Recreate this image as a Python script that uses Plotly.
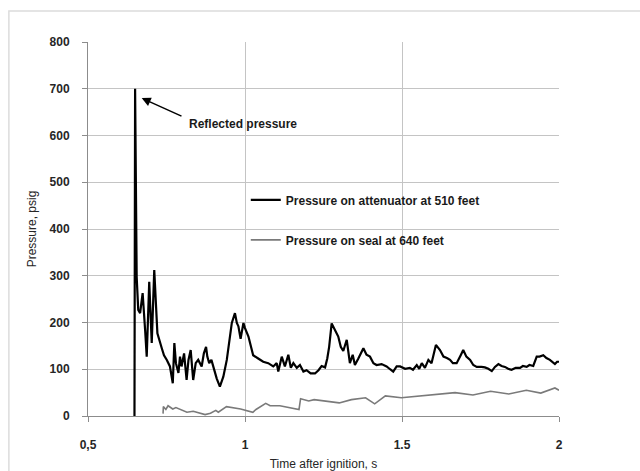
import plotly.graph_objects as go

# ---- data ----
t_att = [0.648, 0.650, 0.655, 0.660, 0.666, 0.674, 0.682, 0.687, 0.695, 0.703, 0.711, 0.716,
         0.721, 0.735, 0.742, 0.751, 0.761, 0.770, 0.775, 0.780, 0.788, 0.793, 0.798, 0.806,
         0.814, 0.820, 0.827, 0.835, 0.843, 0.851, 0.862, 0.869, 0.876, 0.880, 0.886, 0.893,
         0.899, 0.910, 0.920, 0.931, 0.942, 0.951, 0.958, 0.968, 0.974, 0.979, 0.986, 0.995,
         1.000, 1.011, 1.026, 1.042, 1.058, 1.074, 1.090, 1.101, 1.106, 1.117, 1.127, 1.138,
         1.146, 1.154, 1.165, 1.175, 1.186, 1.196, 1.209, 1.223, 1.234, 1.244, 1.255, 1.262,
         1.268, 1.276, 1.287, 1.297, 1.305, 1.313, 1.324, 1.334, 1.343, 1.350, 1.361, 1.377,
         1.387, 1.398, 1.409, 1.419, 1.435, 1.451, 1.462, 1.472, 1.483, 1.494, 1.510, 1.525,
         1.535, 1.547, 1.555, 1.563, 1.573, 1.584, 1.594, 1.608, 1.621, 1.632, 1.643, 1.653,
         1.662, 1.674, 1.687, 1.695, 1.705, 1.717, 1.727, 1.738, 1.753, 1.764, 1.775, 1.786,
         1.796, 1.807, 1.817, 1.828, 1.838, 1.849, 1.862, 1.876, 1.885, 1.897, 1.906, 1.918,
         1.929, 1.938, 1.950, 1.960, 1.971, 1.987, 1.994, 2.000]
p_att = [0, 700, 298, 227, 220, 263, 183, 127, 287, 156, 312, 241,
         177, 145, 130, 120, 106, 70, 156, 113, 92, 127, 106, 134,
         77, 120, 141, 77, 113, 120, 106, 134, 148, 127, 113, 120,
         106, 80, 63, 84, 120, 163, 199, 220, 199, 192, 165, 199,
         188, 170, 130, 123, 116, 113, 106, 113, 95, 127, 106, 131,
         103, 113, 103, 109, 95, 98, 91, 91, 98, 107, 104, 123,
         148, 198, 184, 170, 148, 139, 163, 113, 131, 109, 123, 145,
         131, 127, 113, 109, 111, 106, 100, 95, 106, 106, 101, 103,
         99, 109, 101, 113, 103, 120, 113, 152, 141, 127, 124, 120,
         113, 113, 130, 141, 127, 120, 109, 105, 105, 104, 101, 96,
         105, 111, 107, 105, 101, 99, 103, 103, 107, 105, 109, 107,
         127, 127, 130, 124, 120, 111, 116, 116]

t_seal = [0.739, 0.740, 0.748, 0.755, 0.770, 0.780, 0.815, 0.835, 0.873, 0.890, 0.907, 0.915,
          0.941, 0.986, 1.025, 1.035, 1.066, 1.080, 1.111, 1.157, 1.172, 1.177, 1.203, 1.220,
          1.271, 1.300, 1.339, 1.384, 1.413, 1.447, 1.498, 1.555, 1.611, 1.669, 1.726, 1.782,
          1.840, 1.896, 1.942, 1.987, 2.000]
p_seal = [5, 20, 14, 22, 15, 18, 8, 10, 3, 6, 12, 8,
          20, 15, 8, 14, 27, 22, 22, 15, 14, 37, 32, 35,
          30, 28, 35, 39, 26, 43, 39, 43, 46, 50, 45, 53,
          47, 55, 49, 60, 55]

x_tickvals = [0.5, 1, 1.5, 2]
x_ticktext = ["0,5", "1", "1.5", "2"]
y_tickvals = [0, 100, 200, 300, 400, 500, 600, 700, 800]

name_att = "Pressure on attenuator at 510 feet"
name_seal = "Pressure on seal at 640 feet"

FONT = "Liberation Sans, Arial, sans-serif"

fig = go.Figure()
fig.add_trace(go.Scatter(x=t_att, y=p_att, mode="lines", name=name_att,
                         line=dict(color="#000000", width=2.2), legend="legend"))
fig.add_trace(go.Scatter(x=t_seal, y=p_seal, mode="lines", name=name_seal,
                         line=dict(color="#7a7a7a", width=1.6), legend="legend2"))

legfont = dict(family=FONT, size=12, color="#1a1a1a", weight="bold")
fig.update_layout(
    width=640, height=471,
    margin=dict(l=88, r=81, t=42, b=55, autoexpand=False),
    paper_bgcolor="white", plot_bgcolor="white",
    font=dict(family=FONT, size=12, color="#262626"),
    legend=dict(x=0.335, y=0.578, xanchor="left", yanchor="middle",
                bgcolor="rgba(0,0,0,0)", font=legfont),
    legend2=dict(x=0.335, y=0.471, xanchor="left", yanchor="middle",
                 bgcolor="rgba(0,0,0,0)", font=legfont),
    showlegend=True,
)
fig.update_xaxes(range=[0.5, 2], tickvals=x_tickvals, ticktext=x_ticktext,
                 automargin=False,
                 showgrid=True, gridcolor="#c4c4c4", gridwidth=1,
                 showline=True, linecolor="#8c8c8c", linewidth=1,
                 ticks="outside", ticklen=5, tickcolor="#8c8c8c",
                 ticklabelstandoff=13, zeroline=False,
                 tickfont=dict(family=FONT, size=12, color="#262626", weight="bold"),
                 title=dict(text="Time after ignition, s", standoff=10,
                            font=dict(family=FONT, size=12, color="#262626")))
fig.update_yaxes(range=[0, 800], tickvals=y_tickvals,
                 automargin=False,
                 showgrid=True, gridcolor="#c4c4c4", gridwidth=1,
                 showline=True, linecolor="#8c8c8c", linewidth=1,
                 ticks="outside", ticklen=5, tickcolor="#8c8c8c",
                 ticklabelstandoff=10, zeroline=False,
                 tickfont=dict(family=FONT, size=12, color="#262626", weight="bold"),
                 title=dict(text="Pressure, psig", standoff=10,
                            font=dict(family=FONT, size=12, color="#262626")))

# annotation arrow + text
fig.add_annotation(x=0.671, y=680, ax=0.8025, ay=640, xref="x", yref="y",
                   axref="x", ayref="y", text="", showarrow=True,
                   arrowhead=2, arrowsize=1.2, arrowwidth=1.5, arrowcolor="#000000")
fig.add_annotation(x=0.815, y=624, xref="x", yref="y", xanchor="left", yanchor="middle",
                   text="Reflected pressure", showarrow=False,
                   font=dict(family=FONT, size=12, color="#1a1a1a", weight="bold"))

# faint chart-area border
fig.add_shape(type="rect", xref="paper", yref="paper",
              x0=-0.168, y0=-0.2, x1=1.2, y1=1.083,
              line=dict(color="#dcdcdc", width=1.5), layer="below")

fig.write_html("out.html")
